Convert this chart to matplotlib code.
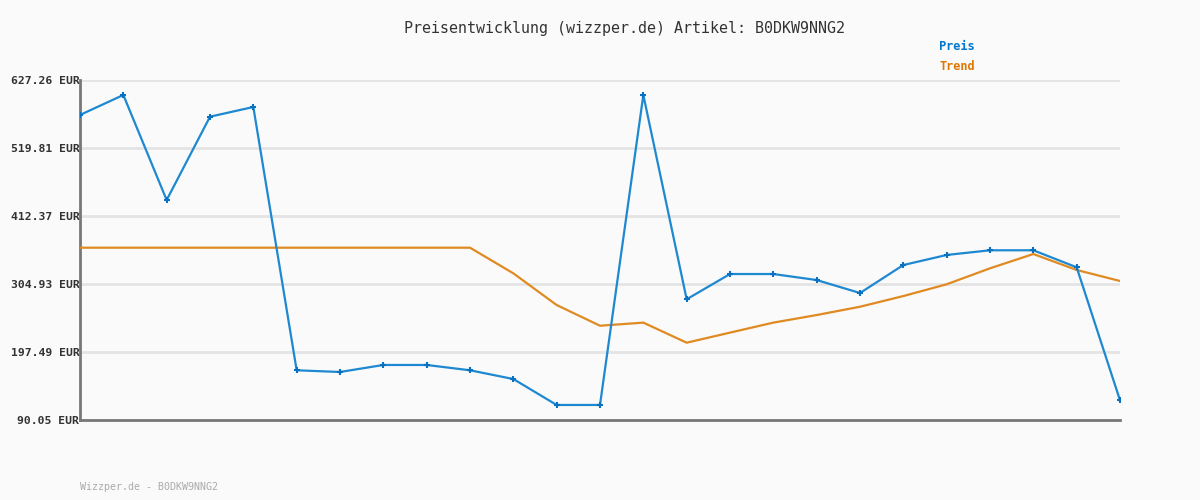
import matplotlib
matplotlib.use("Agg")
import matplotlib.pyplot as plt

title = "Preisentwicklung (wizzper.de) Artikel: B0DKW9NNG2"
footer = "Wizzper.de - B0DKW9NNG2"
ytick_values = [90.05, 197.49, 304.93, 412.37, 519.81, 627.26]
ytick_labels = ["90.05 EUR", "197.49 EUR", "304.93 EUR", "412.37 EUR", "519.81 EUR", "627.26 EUR"]

preis = [572.0, 603.6, 437.6, 569.3, 584.6, 168.6, 165.9, 177.0, 177.0, 168.6,
         154.8, 113.8, 113.8, 603.6, 280.8, 320.7, 320.7, 311.2, 290.7, 334.9,
         350.8, 358.2, 358.2, 331.3, 121.2]
trend = [362.3, 362.3, 362.3, 362.3, 362.3, 362.3, 362.3, 362.3, 362.3, 362.3,
         321.8, 271.7, 239.0, 243.9, 212.2, 228.1, 243.9, 255.9, 269.0, 285.9,
         304.5, 329.7, 352.3, 327.1, 309.7]
x = list(range(len(preis)))

bg = "#fafafa"
mono = ["DejaVu Sans Mono"]

fig = plt.figure(figsize=(12, 5), dpi=100, facecolor=bg)
ax = fig.add_axes([80/1200, 80/500, 1040/1200, 340/500])
ax.set_facecolor(bg)

ax.plot(x, trend, color="#e08a22", lw=1.6, zorder=3)
ax.plot(x, preis, color="#1e88d0", lw=1.6, zorder=4,
        marker="+", markersize=4.5, markeredgewidth=1.5, markeredgecolor="#0a70c0")

ax.set_xlim(0, len(preis) - 1)
ax.set_ylim(ytick_values[0], ytick_values[-1])
ax.set_yticks(ytick_values)
ax.set_yticklabels(ytick_labels, family=mono, fontsize=8.2, fontweight="bold", color="#333333")
ax.set_xticks([])
ax.tick_params(axis="y", length=0, pad=0.5)
ax.grid(axis="y", color="#e4e4e4", lw=2, zorder=0)
for s in ["top", "right"]:
    ax.spines[s].set_visible(False)
for s in ["left", "bottom"]:
    ax.spines[s].set_color("#777777")
    ax.spines[s].set_linewidth(2)

fig.text(624/1200, 1 - 28/500, title, family=mono, fontsize=10.8, color="#333333",
         ha="center", va="center")
fig.text(939/1200, 1 - 47/500, "Preis", family=mono, fontsize=8.6, fontweight="bold",
         color="#0077cc", ha="left", va="center")
fig.text(939/1200, 1 - 67/500, "Trend", family=mono, fontsize=8.6, fontweight="bold",
         color="#dd7700", ha="left", va="center")
fig.text(80/1200, 1 - 487/500, footer, family=mono, fontsize=7.2, color="#aaaaaa",
         ha="left", va="center")

fig.savefig("out.png", dpi=100, facecolor=bg)
